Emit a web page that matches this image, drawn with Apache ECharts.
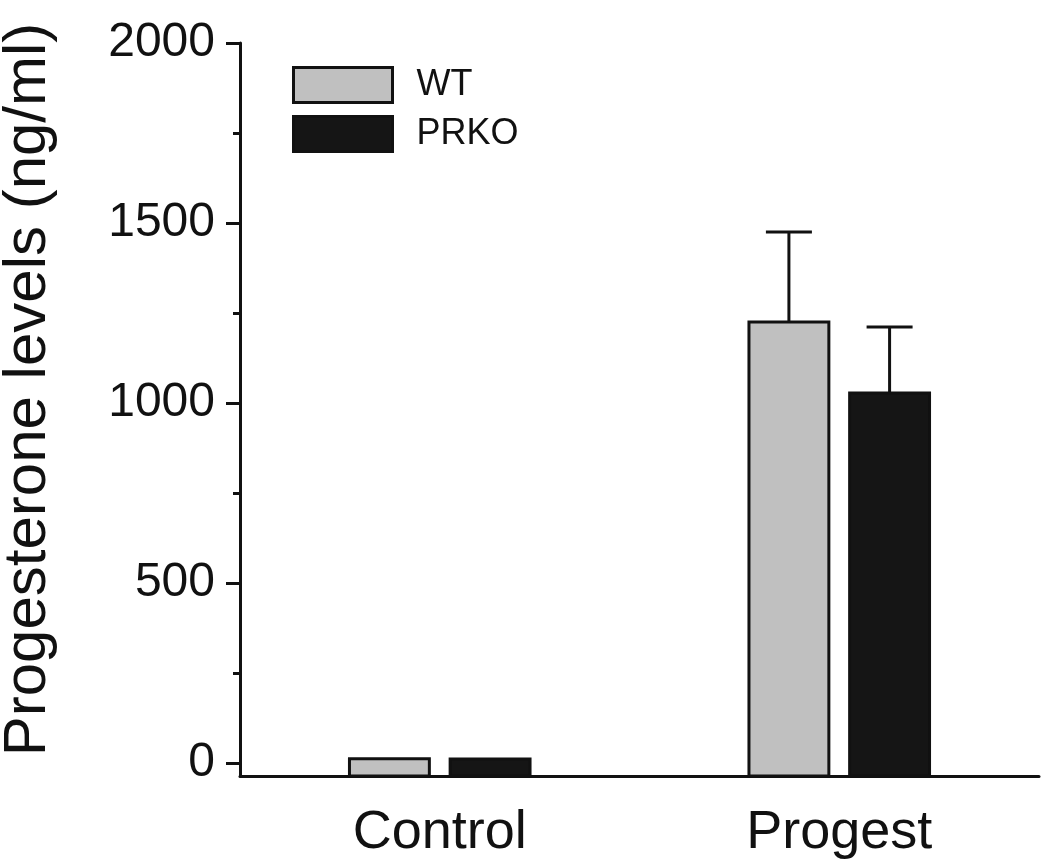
<!DOCTYPE html>
<html>
<head>
<meta charset="utf-8">
<script src="https://cdn.jsdelivr.net/npm/echarts@6/dist/echarts.min.js"></script>
<style>html,body{margin:0;padding:0;background:#fff}#c{width:1050px;height:868px}</style>
</head>
<body>
<div id="c"></div>
<script>
const categories = ['Control', 'Progest'];
const seriesNames = ['WT', 'PRKO'];
const wtValues = [12, 1225];
const prkoValues = [11, 1028];
const wtErrTop = [12, 1475];
const prkoErrTop = [11, 1211];
const yMajorTicks = [0, 500, 1000, 1500, 2000];
const yMinorTicks = [250, 750, 1250, 1750];
const yMin = -36, yMax = 2000;

const FONT = '"Liberation Sans", Arial, sans-serif';
const colors = ['#c0c0c0', '#151515'];
const BAR_W = 0.2, BAR_GAP = 0.26;

function barSeries(idx, vals, tops) {
  return {
    name: seriesNames[idx],
    type: 'custom',
    z: 2,
    itemStyle: { color: colors[idx], borderColor: '#111', borderWidth: 3 },
    data: categories.map((c, i) => [i, vals[i], tops[i]]),
    encode: { x: 0, y: [1, 2] },
    renderItem: function (params, api) {
      const i = api.value(0);
      const v = api.value(1), t = api.value(2);
      const band = api.size([1, 0])[0];
      const bw = band * BAR_W;
      const off = bw * (1 + BAR_GAP) / 2 * (idx === 0 ? -1 : 1);
      const pBase = api.coord([i, yMin]);
      const pTop = api.coord([i, v]);
      const pErr = api.coord([i, t]);
      const x = pTop[0] + off;
      const cap = 23;
      const children = [];
      if (t - v >= 1) {
        children.push(
          { type: 'line', z2: 1, shape: { x1: x, y1: pTop[1], x2: x, y2: pErr[1] }, style: { stroke: '#111', lineWidth: 3 } },
          { type: 'line', z2: 1, shape: { x1: x - cap, y1: pErr[1], x2: x + cap, y2: pErr[1] }, style: { stroke: '#111', lineWidth: 3 } }
        );
      }
      children.push({
        type: 'rect', z2: 2,
        shape: { x: x - bw / 2, y: pTop[1], width: bw, height: pBase[1] - pTop[1] },
        style: { fill: colors[idx], stroke: '#111', lineWidth: 3 }
      });
      return { type: 'group', children: children };
    }
  };
}

const chart = echarts.init(document.getElementById('c'), null, { renderer: 'canvas' });
chart.setOption({
  animation: false,
  backgroundColor: '#fff',
  textStyle: { fontFamily: FONT },
  grid: { left: 240, right: 11, top: 43, bottom: 92, containLabel: false, outerBoundsMode: 'none' },
  legend: {
    orient: 'vertical',
    left: 292, top: 66,
    padding: 0,
    icon: 'rect',
    itemWidth: 99, itemHeight: 35, itemGap: 11,
    textStyle: { fontFamily: FONT, fontSize: 36, color: '#111', padding: [0, 0, 0, 19] },
    data: [
      { name: seriesNames[0], icon: 'rect', itemStyle: { color: colors[0], borderColor: '#111', borderWidth: 3 } },
      { name: seriesNames[1], icon: 'rect', itemStyle: { color: colors[1], borderColor: '#111', borderWidth: 3 } }
    ]
  },
  xAxis: {
    type: 'category',
    data: categories,
    boundaryGap: true,
    axisLine: { onZero: false, lineStyle: { color: '#111', width: 3 } },
    axisTick: { show: false },
    axisLabel: { fontFamily: FONT, fontSize: 54, color: '#111', margin: 30 }
  },
  yAxis: [{
    type: 'value',
    min: yMin, max: yMax,
    name: 'Progesterone levels (ng/ml)',
    nameLocation: 'middle',
    nameGap: 182,
    nameTextStyle: { fontFamily: FONT, fontSize: 60, color: '#111', padding: [0, 0, 0, 40] },
    axisLine: { show: true, lineStyle: { color: '#111', width: 3 } },
    axisTick: { show: true, inside: false, length: 14, customValues: yMajorTicks, lineStyle: { color: '#111', width: 3 } },
    axisLabel: { fontFamily: FONT, fontSize: 48, color: '#111', margin: 25, customValues: yMajorTicks, formatter: v => String(v) },
    splitLine: { show: false }
  }, {
    type: 'value',
    position: 'left',
    min: yMin, max: yMax,
    axisLine: { show: false },
    axisTick: { show: true, inside: false, length: 7, customValues: yMinorTicks, lineStyle: { color: '#111', width: 3 } },
    axisLabel: { show: false },
    splitLine: { show: false }
  }],
  series: [
    barSeries(0, wtValues, wtErrTop),
    barSeries(1, prkoValues, prkoErrTop)
  ]
});
</script>
</body>
</html>
